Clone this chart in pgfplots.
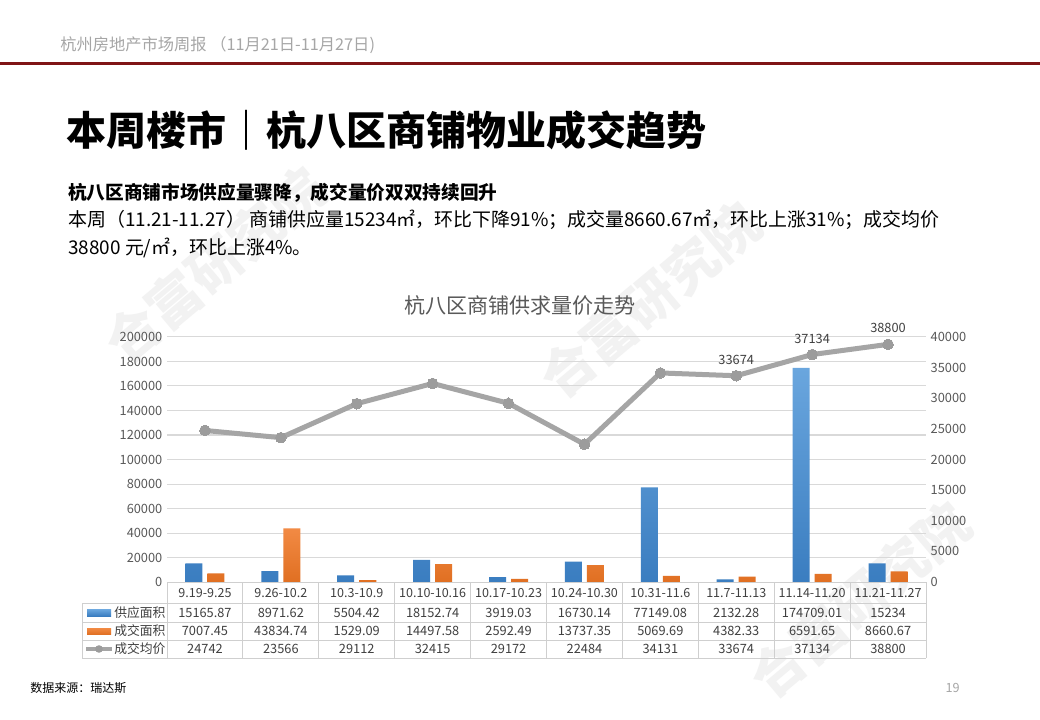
\documentclass[border=0pt]{standalone}
\usepackage{pgfplots}
\pgfplotsset{compat=1.18}
\usepackage{pgfplotstable}
\usepackage{fontspec}
\setmainfont{Noto Sans CJK SC}
\definecolor{hdrgray}{HTML}{A6A6A6}
\definecolor{darkred}{HTML}{7F1416}
\definecolor{txtgray}{HTML}{595959}
\definecolor{tblgray}{HTML}{404040}
\definecolor{gridc}{HTML}{D9D9D9}
\definecolor{borderc}{HTML}{CFCFCF}
\definecolor{blueT}{HTML}{6AA6DE}
\definecolor{blueB}{HTML}{3A7DC0}
\definecolor{orT}{HTML}{F28A44}
\definecolor{orB}{HTML}{E06F22}
\definecolor{lineG}{HTML}{A5A5A5}
\definecolor{markG}{HTML}{9C9C9C}
\definecolor{wm}{HTML}{F2F2F2}

\pgfplotstableread{
idx label supply deal price
0 9.19-9.25 15165.87 7007.45 24742
1 9.26-10.2 8971.62 43834.74 23566
2 10.3-10.9 5504.42 1529.09 29112
3 10.10-10.16 18152.74 14497.58 32415
4 10.17-10.23 3919.03 2592.49 29172
5 10.24-10.30 16730.14 13737.35 22484
6 10.31-11.6 77149.08 5069.69 34131
7 11.7-11.13 2132.28 4382.33 33674
8 11.14-11.20 174709.01 6591.65 37134
9 11.21-11.27 15234 8660.67 38800
}\data

\begin{document}
\begin{tikzpicture}[x=0.75pt,y=-0.75pt]
\path[use as bounding box, fill=white] (0,0) rectangle (1040,720);

% watermarks
\begin{scope}[every node/.style={text=wm, font=\fontsize{40}{40}\selectfont\bfseries, rotate=40, anchor=center}]
\node at (215,265) {合富研究院};
\node at (650,300) {合富研究院};
\node at (860,600) {合富研究院};
\end{scope}

% header
\node[anchor=west, text=hdrgray, font=\fontsize{12.2}{14}\selectfont, inner sep=0pt] at (60,45) {杭州房地产市场周报 （11月21日-11月27日)};
\fill[darkred] (0,62.5) rectangle (1040,65.5);

% title
\node[anchor=west, text=black, font=\fontsize{30}{34}\selectfont\bfseries, inner sep=0pt] at (66,130) {本周楼市｜杭八区商铺物业成交趋势};

% text
\node[anchor=west, text=black, font=\fontsize{14}{16}\selectfont\bfseries, inner sep=0pt] at (68,193) {杭八区商铺市场供应量骤降，成交量价双双持续回升};
\node[anchor=west, text=black, font=\fontsize{14.2}{16}\selectfont, inner sep=0pt] at (68,220) {本周（11.21-11.27） 商铺供应量15234㎡，环比下降91\%；成交量8660.67㎡，环比上涨31\%；成交均价};
\node[anchor=west, text=black, font=\fontsize{14.2}{16}\selectfont, inner sep=0pt] at (68,248) {38800 元/㎡，环比上涨4\%。};

% chart title
\node[text=txtgray, font=\fontsize{15.8}{17}\selectfont, inner sep=0pt] at (520,305) {杭八区商铺供求量价走势};

% bars axis
\begin{axis}[
  at={(125.25pt,-436.5pt)}, anchor=south west,
  scale only axis, width=569.25pt, height=183.75pt,
  xmin=-0.5, xmax=9.5, ymin=0, ymax=200000,
  xtick=\empty,
  ytick={0,20000,...,200000},
  scaled y ticks=false,
  /pgf/number format/assume math mode=true,
  yticklabel style={font=\fontsize{9.6}{10}\selectfont, text=txtgray, /pgf/number format/fixed, /pgf/number format/1000 sep={}},
  ymajorgrids, major grid style={gridc, line width=0.75pt},
  axis line style={draw=none}, tick style={draw=none},
  clip=false,
]
\addplot[ybar, bar width=12.75pt, bar shift=-8.25pt, draw=none, top color=blueT, bottom color=blueB] table[x=idx,y=supply]{\data};
\addplot[ybar, bar width=12.75pt, bar shift=8.25pt, draw=none, top color=orT, bottom color=orB] table[x=idx,y=deal]{\data};
\end{axis}

% line axis
\begin{axis}[
  at={(125.25pt,-436.5pt)}, anchor=south west,
  scale only axis, width=569.25pt, height=183.75pt,
  xmin=-0.5, xmax=9.5, ymin=0, ymax=40000,
  axis x line=none, axis y line*=right,
  xtick=\empty,
  ytick={0,5000,...,40000},
  scaled y ticks=false,
  /pgf/number format/assume math mode=true,
  yticklabel style={font=\fontsize{9.6}{10}\selectfont, text=txtgray, /pgf/number format/fixed, /pgf/number format/1000 sep={}},
  axis line style={draw=none}, tick style={draw=none},
  clip=false,
]
\addplot[line width=3.75pt, color=lineG, line join=round, mark=*, mark size=4pt, mark options={fill=markG, draw=markG, line width=0pt}] table[x=idx,y=price]{\data};
\addplot[draw=none, mark=none, nodes near coords={\pgfmathprintnumber[fixed,1000 sep={}]{\pgfplotspointmeta}}, point meta=y,
  every node near coord/.style={font=\fontsize{9.6}{10}\selectfont, text=tblgray, anchor=south, yshift=5pt}]
  coordinates {(7,33674) (8,37134) (9,38800)};
\end{axis}

% data table
\begin{scope}[draw=borderc, line width=0.75pt]
\draw (167,582) -- (926,582);
\foreach \yy in {603,622,640,658} \draw (82,\yy) -- (926,\yy);
\draw (82,603) -- (82,658);
\foreach \i in {0,...,10} \draw ({167+\i*75.9},582) -- ({167+\i*75.9},658);
\end{scope}
\foreach \i in {0,...,9}{
  \pgfmathsetmacro{\cx}{167+(\i+0.5)*75.9}
  \pgfplotstablegetelem{\i}{label}\of\data
  \node[text=tblgray, font=\fontsize{9.4}{10}\selectfont, inner sep=0pt] at (\cx,593) {\pgfplotsretval};
  \pgfplotstablegetelem{\i}{supply}\of\data
  \node[text=tblgray, font=\fontsize{9.6}{10}\selectfont, inner sep=0pt] at (\cx,613) {\pgfplotsretval};
  \pgfplotstablegetelem{\i}{deal}\of\data
  \node[text=tblgray, font=\fontsize{9.6}{10}\selectfont, inner sep=0pt] at (\cx,631) {\pgfplotsretval};
  \pgfplotstablegetelem{\i}{price}\of\data
  \node[text=tblgray, font=\fontsize{9.6}{10}\selectfont, inner sep=0pt] at (\cx,649) {\pgfplotsretval};
}
% legend keys
\shade[top color=blueT, bottom color=blueB] (87,609.5) rectangle (111,616);
\shade[top color=orT, bottom color=orB] (87,628) rectangle (111,634.5);
\draw[lineG, line width=3pt] (86,649) -- (112,649);
\fill[markG] (99,649) circle (3.8);
\node[anchor=west, text=tblgray, font=\fontsize{9.6}{10}\selectfont, inner sep=0pt] at (114,613) {供应面积};
\node[anchor=west, text=tblgray, font=\fontsize{9.6}{10}\selectfont, inner sep=0pt] at (114,631) {成交面积};
\node[anchor=west, text=tblgray, font=\fontsize{9.6}{10}\selectfont, inner sep=0pt] at (114,649) {成交均价};

% footer
\node[anchor=west, text=black, font=\fontsize{9}{10}\selectfont, inner sep=0pt] at (30,688) {数据来源：瑞达斯};
\node[anchor=east, text=hdrgray, font=\fontsize{9.5}{10}\selectfont, inner sep=0pt] at (960,688) {19};
\end{tikzpicture}
\end{document}
